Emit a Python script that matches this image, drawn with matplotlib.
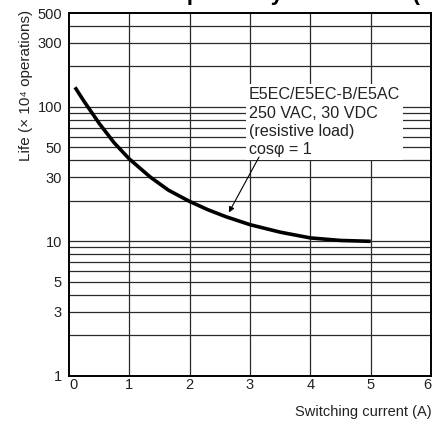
"""
Electrical life expectancy curve (E5EC/E5EC-B/E5AC relay output),
switching current vs. life on a log scale.
"""

import matplotlib.pyplot as plt
from matplotlib.ticker import FixedLocator, NullLocator

plt.rcParams["font.family"] = ["Liberation Sans", "DejaVu Sans"]

# curve
current_a = [0.1, 0.25, 0.5, 0.75, 1.0, 1.35, 1.65, 2.0, 2.3, 2.6,
             3.0, 3.5, 4.0, 4.5, 5.0]
life_1e4 = [140, 110, 75.5, 54, 41, 30, 24, 19.8, 17.2, 15.25,
            13.3, 11.7, 10.6, 10.15, 10.0]

x_ticks = [0, 1, 2, 3, 4, 5, 6]
y_ticks = [1, 3, 5, 10, 30, 50, 100, 300, 500]
y_grid = [2, 3, 4, 5, 6, 7, 8, 9, 10, 20, 30, 40, 50, 60, 70, 80, 90,
          100, 200, 300, 400]

note = "E5EC/E5EC-B/E5AC\n250 VAC, 30 VDC\n(resistive load)\ncosφ = 1"
note_pos = (2.98, 77)
arrow_from = (3.15, 42.4)
arrow_tip = (2.65, 16.4)

OUT_PATH = "out.png"


def main():
    fig = plt.figure(figsize=(4.35, 4.21), dpi=100)
    ax = fig.add_axes([0.1586, 0.1076, 0.8322, 0.8615])

    ax.set_yscale("log")
    ax.set_xlim(0, 6)
    ax.set_ylim(1, 500)

    # grid drawn by hand so it sits under the note box
    for v in y_grid:
        ax.axhline(v, color="#2a2a2a", lw=0.9, zorder=1)
    for v in x_ticks[1:-1]:
        ax.axvline(v, color="#2a2a2a", lw=0.9, zorder=1)

    ax.plot(current_a, life_1e4, color="black", lw=2.6,
            solid_capstyle="butt", solid_joinstyle="round", zorder=3)

    ax.text(note_pos[0], note_pos[1], note, fontsize=11.6, va="center",
            ha="left", linespacing=1.28, color="#222222",
            bbox=dict(boxstyle="square,pad=0.2", fc="white", ec="none"),
            zorder=2)
    ax.annotate("", xy=arrow_tip, xytext=arrow_from,
                arrowprops=dict(arrowstyle="-|>", color="black", lw=0.8,
                                mutation_scale=8, shrinkA=0, shrinkB=0),
                zorder=4)

    ax.xaxis.set_major_locator(FixedLocator(x_ticks))
    ax.yaxis.set_major_locator(FixedLocator(y_ticks))
    ax.yaxis.set_minor_locator(NullLocator())
    ax.set_xticklabels([str(v) for v in x_ticks])
    ax.set_yticklabels([str(v) for v in y_ticks])
    ax.tick_params(length=0, labelsize=10.5, colors="#222222")
    ax.tick_params(axis="x", pad=2)
    ax.tick_params(axis="y", pad=5)
    xl = ax.get_xticklabels()
    xl[0].set_ha("left")
    xl[-1].set_ha("right")

    for s in ax.spines.values():
        s.set_linewidth(1.4)
        s.set_color("black")

    fig.text(0.06, 0.796, "Life (× 10⁴ operations)", rotation=90,
             fontsize=11, ha="center", va="center", color="#222222")
    fig.text(0.993, 0.012, "Switching current (A)", fontsize=10.5,
             ha="right", va="baseline", color="#222222")

    # title sits mostly above the crop, only descenders show
    fig.text(0.714, 1.0, "Electrical Life Expectancy Curve Data (Reference Values)",
             fontsize=16, fontweight="bold", ha="center", va="baseline")

    fig.savefig(OUT_PATH, dpi=100)
    print(f"Saved: {OUT_PATH}")


if __name__ == "__main__":
    main()
